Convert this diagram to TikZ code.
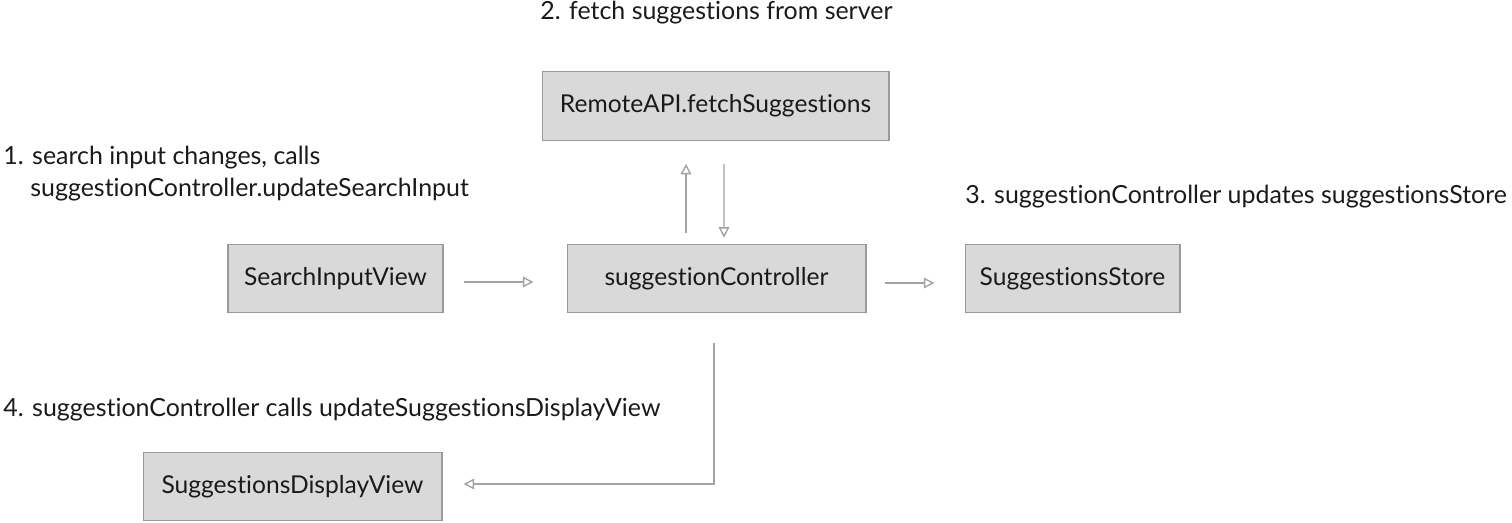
\documentclass[tikz,border=0pt]{standalone}
\usepackage{fontspec}
\setmainfont{Lato}[Ligatures={NoCommon,NoRare}]
\usetikzlibrary{arrows.meta}
\definecolor{boxfill}{HTML}{D9D9D9}
\definecolor{boxline}{HTML}{9A9A9A}
\definecolor{linegray}{HTML}{A3A3A3}
\definecolor{textcol}{HTML}{1A1A1A}

\begin{document}
\begin{tikzpicture}[x=0.02cm,y=-0.02cm,
  box/.style={draw=boxline,fill=boxfill,line width=0.6pt,inner sep=0pt,
    minimum height=1.37cm,text=textcol,font=\fontsize{14}{16}\selectfont},
  flow/.style={draw=linegray,line width=0.8pt,
    -{Triangle[open,length=6pt,width=6pt]}},
  note/.style={anchor=west,inner sep=0pt,text=textcol,
    font=\fontsize{14.2}{16}\selectfont}]
\useasboundingbox (0,0) rectangle (1512,523);

% boxes
\node [box,minimum width=6.94cm] (api) at (715.5,106) {RemoteAPI.fetchSuggestions};
\node [box,minimum width=4.3cm] (siv) at (335.5,278.5) {SearchInputView};
\node [box,minimum width=5.98cm] (sc) at (716.5,278.5) {suggestionController};
\node [box,minimum width=4.3cm] (store) at (1072.5,278.5) {SuggestionsStore};
\node [box,minimum width=5.98cm] (sdv) at (292.5,486.5) {SuggestionsDisplayView};

% notes
\node [note] (n1) at (3,158) {1. search input changes, calls};
\node [note] (n1b) at (30,190) {suggestionController.updateSearchInput};
\node [note] (n2) at (540,13) {2. fetch suggestions from server};
\node [note] (n3) at (965,197) {3. suggestionController updates suggestionsStore};
\node [note] (n4) at (3,410) {4. suggestionController calls updateSuggestionsDisplayView};

% connectors
\draw [flow,shorten <=0.4cm,shorten >=0.66cm] ([yshift=-0.07cm]siv.east) -- ([yshift=-0.07cm]sc.west);
\draw [flow,shorten <=0.36cm,shorten >=0.6cm] ([yshift=-0.09cm]sc.east) -- ([yshift=-0.09cm]store.west);
\draw [flow,shorten <=0.22cm,shorten >=0.46cm] ([xshift=-0.61cm]sc.north) -- ([xshift=-0.59cm]api.south);
\draw [flow,shorten <=0.46cm,shorten >=0.12cm] ([xshift=0.17cm]api.south) -- ([xshift=0.15cm]sc.north);
\draw [flow,shorten <=0.6cm,shorten >=0.42cm] ([xshift=-0.05cm]sc.south) |- ([yshift=0.05cm]sdv.east);
\end{tikzpicture}
\end{document}
